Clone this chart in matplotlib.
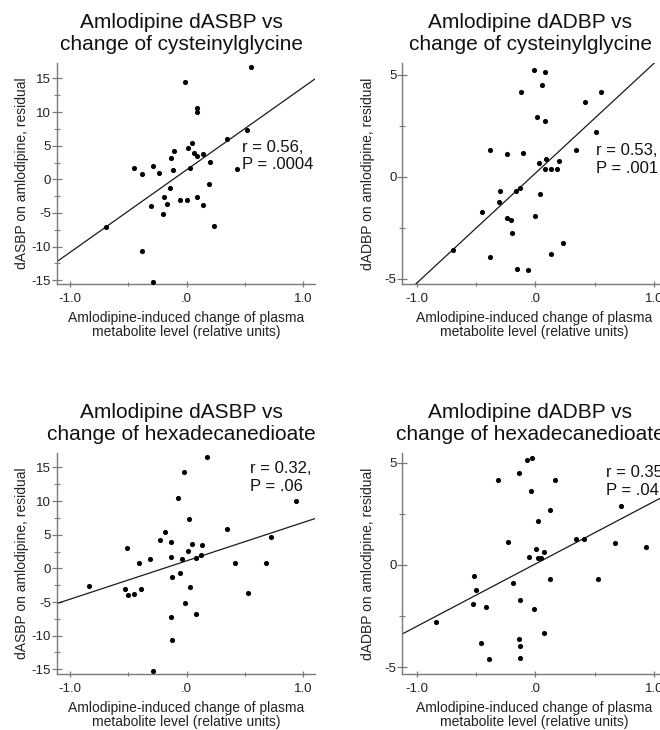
import matplotlib
matplotlib.use("Agg")
import matplotlib.pyplot as plt
import numpy as np
from matplotlib.ticker import MultipleLocator, FuncFormatter

plt.rcParams['font.family'] = ['Liberation Sans', 'DejaVu Sans']
plt.rcParams['axes.unicode_minus'] = False

# ---- data ----
titles = ["Amlodipine dASBP vs\nchange of cysteinylglycine",
          "Amlodipine dADBP vs\nchange of cysteinylglycine",
          "Amlodipine dASBP vs\nchange of hexadecanedioate",
          "Amlodipine dADBP vs\nchange of hexadecanedioate"]
ylabels = ["dASBP on amlodipine, residual", "dADBP on amlodipine, residual",
           "dASBP on amlodipine, residual", "dADBP on amlodipine, residual"]
xlabel = "Amlodipine-induced change of plasma\nmetabolite level (relative units)"
stats_r = ["r = 0.56,", "r = 0.53,", "r = 0.32,", "r = 0.35,"]
stats_p = ["P = .0004", "P = .001", "P = .06", "P = .04"]

x1 = [0.554, -0.013, 0.088, 0.094, 0.519, 0.347, 0.047, 0.013, -0.105, 0.065, 0.094, 0.14,
      -0.131, -0.289, 0.2, -0.45, 0.03, -0.117, 0.433, -0.381, -0.24, 0.194, -0.145, -0.194,
      -0.059, 0.004, 0.091, -0.165, -0.304, 0.14, -0.203, 0.237, -0.689, -0.381, -0.289]
y1 = [16.67, 14.48, 10.55, 10.05, 7.36, 5.97, 5.37, 4.63, 4.28, 3.88, 3.48, 3.73,
      3.13, 2.04, 2.54, 1.69, 1.64, 1.39, 1.49, 0.80, 0.90, -0.65, -1.24, -2.64,
      -3.03, -3.13, -2.69, -3.68, -3.93, -3.83, -5.17, -6.87, -7.11, -10.70, -15.22]

x2 = [-0.014, 0.083, 0.056, -0.117, 0.55, 0.422, 0.014, 0.083, 0.511, -0.381, 0.339, -0.242,
      -0.108, 0.089, 0.197, 0.028, 0.083, 0.133, 0.183, -0.297, -0.133, -0.164, 0.042, -0.308,
      -0.453, -0.236, -0.206, -0.003, -0.2, 0.231, -0.689, 0.133, -0.381, -0.153, -0.061]
y2 = [5.21, 5.13, 4.51, 4.17, 4.17, 3.64, 2.92, 2.71, 2.17, 1.29, 1.29, 1.09,
      1.14, 0.88, 0.78, 0.67, 0.36, 0.38, 0.39, -0.69, -0.54, -0.69, -0.87, -1.23,
      -1.72, -2.03, -2.11, -1.90, -2.78, -3.27, -3.58, -3.81, -3.92, -4.51, -4.58]

x3 = [0.173, -0.023, 0.941, -0.072, 0.02, 0.351, -0.184, 0.728, -0.227, -0.135, 0.049, 0.129,
      -0.509, 0.012, 0.124, -0.129, -0.037, 0.078, -0.314, -0.412, 0.417, 0.682, -0.055, -0.121,
      0.029, -0.836, -0.529, -0.388, -0.498, -0.455, 0.527, -0.009, 0.078, -0.129, -0.121, -0.285]
y3 = [16.53, 14.36, 10.0, 10.45, 7.28, 5.89, 5.35, 4.6, 4.26, 3.86, 3.66, 3.47,
      3.07, 2.52, 2.03, 1.63, 1.44, 1.53, 1.34, 0.84, 0.74, 0.84, -0.69, -1.29,
      -2.72, -2.62, -3.12, -3.02, -3.96, -3.86, -3.66, -5.15, -6.83, -7.18, -10.69, -15.3]

x4 = [-0.025, -0.072, -0.136, -0.314, 0.169, -0.039, 0.719, 0.122, 0.019, 0.344, 0.411, -0.228,
      0.672, 0.933, 0.008, 0.075, -0.056, 0.025, 0.044, -0.514, 0.122, 0.528, -0.5, -0.186,
      -0.528, -0.414, -0.131, -0.014, -0.833, 0.075, -0.136, -0.125, -0.461, -0.389, -0.125]
y4 = [5.2, 5.1, 4.48, 4.14, 4.14, 3.63, 2.88, 2.69, 2.17, 1.29, 1.29, 1.12,
      1.09, 0.88, 0.78, 0.65, 0.37, 0.33, 0.33, -0.55, -0.70, -0.70, -1.24, -0.88,
      -1.92, -2.04, -1.73, -2.13, -2.79, -3.31, -3.6, -3.94, -3.81, -4.59, -4.53]

xs = [x1, x2, x3, x4]
ys = [y1, y2, y3, y4]
slopes = [12.26, 5.39, 5.70, 3.05]
intercepts = [1.41, 0.17, 1.12, 0.05]

# ---- layout ----
W, H = 660, 730
fig = plt.figure(figsize=(W / 100, H / 100), dpi=100)

# (left px, top px, right px, bottom px)
boxes = [(56.5, 63, 315, 284.3), (402.3, 63, 666, 284.3),
         (56.5, 452.7, 315, 674), (402.3, 452.7, 666, 674)]
xlims = [(-1.116, 1.103), (-1.12, 1.10), (-1.116, 1.103), (-1.12, 1.10)]
ylims = [(-15.6, 17.3), (-5.27, 5.57), (-15.7, 17.2), (-5.32, 5.48)]
ymaj = [5, 5, 5, 5]
ymin_ = [2.5, 2.5, 2.5, 2.5]
txt_pos = [(0.474, 4.14, 1.52), (0.514, 1.06, 0.20), (0.545, 14.14, 11.5), (0.598, 4.28, 3.41)]

spine_col = '#7a7a7a'
text_col = '#222222'

def xfmt(v, pos):
    s = f"{v:.1f}"
    if s in ("0.0", "-0.0"):
        return ".0"
    return s

def yfmt(v, pos):
    return f"{int(round(v))}"

for i in range(4):
    l, t, r, b = boxes[i]
    ax = fig.add_axes([l / W, 1 - b / H, (r - l) / W, (b - t) / H])
    ax.set_xlim(*xlims[i])
    ax.set_ylim(*ylims[i])
    for s in ('top', 'right'):
        ax.spines[s].set_visible(False)
    for s in ('left', 'bottom'):
        ax.spines[s].set_color(spine_col)
        ax.spines[s].set_linewidth(1.0)

    xx = np.array(xlims[i])
    ax.plot(xx, slopes[i] * xx + intercepts[i], color='#1a1a1a', lw=0.9, zorder=2)
    ax.plot(xs[i], ys[i], 'o', color='black', ms=3.7, mew=0, zorder=3)

    ax.xaxis.set_major_locator(MultipleLocator(1.0))
    ax.xaxis.set_minor_locator(MultipleLocator(0.5))
    ax.yaxis.set_major_locator(MultipleLocator(ymaj[i]))
    ax.yaxis.set_minor_locator(MultipleLocator(ymin_[i]))
    ax.xaxis.set_major_formatter(FuncFormatter(xfmt))
    ax.yaxis.set_major_formatter(FuncFormatter(yfmt))
    ax.tick_params(axis='x', which='major', direction='inout', length=5, width=0.9,
                   color=spine_col, labelsize=9.5, labelcolor=text_col, pad=4)
    ax.tick_params(axis='x', which='minor', direction='inout', length=3.5, width=0.8,
                   color=spine_col)
    ax.tick_params(axis='y', which='major', direction='inout', length=7, width=0.9,
                   color=spine_col, labelsize=9.5, labelcolor=text_col, pad=0.5)
    ax.tick_params(axis='y', which='minor', direction='inout', length=4, width=0.8,
                   color=spine_col)

    ax.set_title(titles[i], fontsize=15, color='#111111', x=0.485, y=1.0, pad=9,
                 linespacing=1.2)
    ax.set_xlabel(xlabel, fontsize=10, color=text_col, linespacing=1.0)
    ax.xaxis.set_label_coords(0.5, -0.12)
    ax.set_ylabel(ylabels[i], fontsize=10, color=text_col)
    ax.yaxis.set_label_coords(-0.105, 0.5)

    tx, ty1, ty2 = txt_pos[i]
    ax.text(tx, ty1, stats_r[i], fontsize=12, color='#111111', va='baseline', ha='left',
            clip_on=False)
    ax.text(tx, ty2, stats_p[i], fontsize=12, color='#111111', va='baseline', ha='left',
            clip_on=False)

fig.savefig("out.png", dpi=100, facecolor='white')
